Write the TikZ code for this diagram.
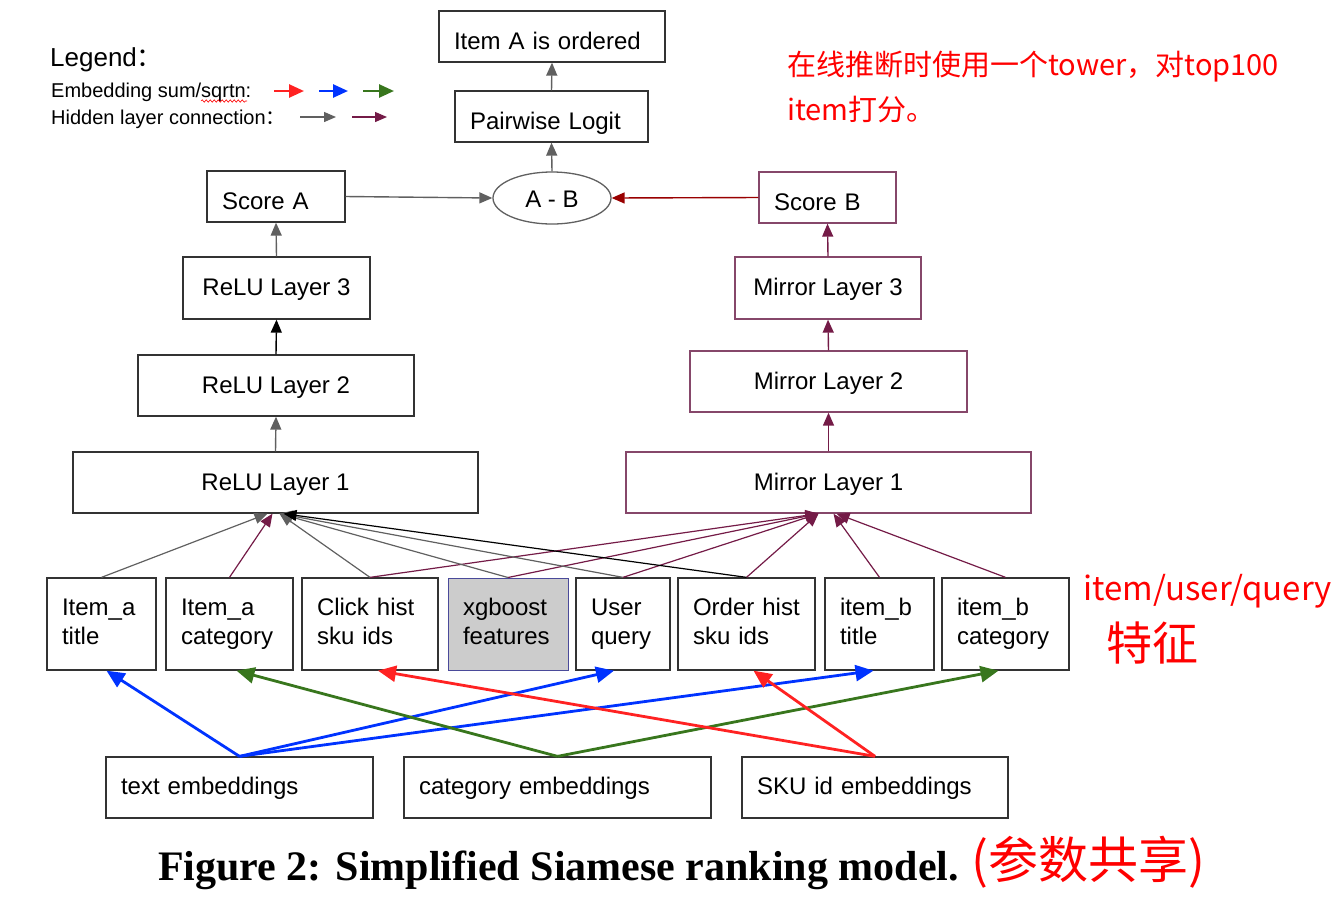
\documentclass[tikz,border=0pt]{standalone}
\usepackage{fontspec}
\setmainfont{Liberation Sans}
\newfontfamily\cjk{Noto Sans CJK SC}
\newfontfamily\capfont{Liberation Serif}
\usetikzlibrary{arrows.meta,shapes.geometric,decorations.pathmorphing}
\definecolor{hgray}{HTML}{606060}
\definecolor{hpurple}{HTML}{741B47}
\definecolor{mborder}{HTML}{86476A}
\definecolor{ered}{HTML}{FF2222}
\definecolor{eblue}{HTML}{0033FF}
\definecolor{egreen}{HTML}{38761D}
\definecolor{dred}{HTML}{990000}
\definecolor{bdr}{HTML}{333333}
\definecolor{xgfill}{HTML}{CCCCCC}
\definecolor{xgbdr}{HTML}{4A4A9A}
\begin{document}
\begin{tikzpicture}[x=1pt,y=-1pt,
  txt/.style={font=\fontsize{24}{29}\selectfont},
  box/.style={draw=bdr, line width=1.3pt, fill=white, txt, inner xsep=15pt, inner ysep=0pt, align=left},
  sbox/.style={box, minimum height=51pt, text height=30pt, text depth=5pt},
  lay/.style={box, align=center, minimum height=61pt, text height=20pt, text depth=5pt},
  mlay/.style={lay, draw=mborder},
  fbox/.style={box, minimum height=92pt},
  ebox/.style={box, minimum height=61pt, text height=18pt, text depth=5pt},
  hid/.style={line width=1.2pt, -{Triangle[length=13pt,width=11pt]}},
  hidt/.style={line width=1.4pt, -{Triangle[length=13pt,width=11pt]}},
  emb/.style={line width=2.8pt, -{Triangle[length=18pt,width=16pt]}},
  leg/.style={anchor=base west, inner sep=0pt, font=\fontsize{20}{24}\selectfont},
  note/.style={anchor=base west, inner sep=0pt, text=red, font=\cjk\fontsize{29}{34}\selectfont},
  hand/.style={inner sep=0pt, text=red, font=\cjk}
]
\useasboundingbox (0,0) rectangle (1340,906);

% ---------- legend ----------
\node[leg, font=\fontsize{26}{30}\selectfont] (legT) at (50,66) {Legend{\cjk ：}};
\node[leg] (leg1) at (51,97) {Embedding sum/sqrtn:};
\node[leg] (leg2) at (51,124) {Hidden layer connection{\cjk ：}};
\coordinate (sq1) at (201,101);
\coordinate (sq2) at (247,101);
\draw[red, line width=0.6pt, decorate, decoration={snake, amplitude=1.2pt, segment length=4pt}] (sq1) -- (sq2);
\coordinate (lr1) at (274,91);  \coordinate (lr2) at (304,91);
\coordinate (lb1) at (319,91);  \coordinate (lb2) at (348,91);
\coordinate (lg1) at (363,91);  \coordinate (lg2) at (394,91);
\coordinate (lh1) at (300,117); \coordinate (lh2) at (336,117);
\coordinate (lp1) at (352,117); \coordinate (lp2) at (387,117);
\draw[line width=2.6pt, ered, -{Triangle[length=15pt,width=13pt]}] (lr1) -- (lr2);
\draw[line width=2.6pt, eblue, -{Triangle[length=15pt,width=13pt]}] (lb1) -- (lb2);
\draw[line width=2.6pt, egreen, -{Triangle[length=15pt,width=13pt]}] (lg1) -- (lg2);
\draw[line width=1.3pt, hgray, -{Triangle[length=12pt,width=10pt]}] (lh1) -- (lh2);
\draw[line width=1.3pt, hpurple, -{Triangle[length=12pt,width=10pt]}] (lp1) -- (lp2);

% ---------- top ----------
\node[sbox, text width=196pt] (itemA) at (552,36.5) {Item A is ordered};
\node[sbox, text width=163pt] (pair) at (551.5,116.5) {Pairwise Logit};
\node[draw=hgray, line width=1.3pt, ellipse, minimum width=118pt, minimum height=52pt, inner sep=0pt, txt, fill=white, text height=22pt, text depth=4pt] (ab) at (552,198) {A - B};
\node[sbox, text width=108pt] (scoreA) at (276,196.5) {Score A};
\node[sbox, draw=mborder, text width=107pt] (scoreB) at (827.5,197.5) {Score B};

% ---------- towers ----------
\node[lay, minimum width=187pt, minimum height=62pt] (relu3) at (276.5,288) {ReLU Layer 3};
\node[lay, minimum width=276pt] (relu2) at (276,385.5) {ReLU Layer 2};
\node[lay, minimum width=405pt] (relu1) at (275.5,482.5) {ReLU Layer 1};
\node[mlay, minimum width=186pt, minimum height=62pt] (mir3) at (828,288) {Mirror Layer 3};
\node[mlay, minimum width=277pt] (mir2) at (828.5,381.5) {Mirror Layer 2};
\node[mlay, minimum width=405pt] (mir1) at (828.5,482.5) {Mirror Layer 1};

% ---------- features ----------
\node[fbox, text width=79pt] (f1) at (101.5,624) {\strut Item\_a\\\strut title};
\node[fbox, text width=97pt] (f2) at (229.5,624) {\strut Item\_a\\\strut category};
\node[fbox, text width=106pt] (f3) at (370,624) {\strut Click~hist\\\strut sku~ids};
\node[fbox, text width=90pt, fill=xgfill, draw=xgbdr, line width=1pt] (f4) at (508,624) {\strut xgboost\\\strut features};
\node[fbox, text width=64pt] (f5) at (623,624) {\strut User\\\strut query};
\node[fbox, text width=107pt] (f6) at (746.5,624) {\strut Order~hist\\\strut sku~ids};
\node[fbox, text width=79pt] (f7) at (879.5,624) {\strut item\_b\\\strut title};
\node[fbox, text width=97pt] (f8) at (1005.5,624) {\strut item\_b\\\strut category};

% ---------- embeddings ----------
\node[ebox, text width=237pt] (e1) at (239.5,787.5) {text embeddings};
\node[ebox, text width=277pt] (e2) at (557.5,787.5) {category embeddings};
\node[ebox, text width=236pt] (e3) at (875,787.5) {SKU id embeddings};

% ---------- upper connectors ----------
\draw[hidt, hgray] (pair.north) -- (itemA.south);
\draw[hidt, hgray] (ab.north) -- (pair.south);
\draw[hidt, hgray] (scoreA.east) -- (ab.west);
\draw[hidt, dred] (scoreB.west) -- (ab.east);
\draw[hidt, hgray] (relu3.north) -- (scoreA.south);
\draw[hidt, black] (relu2.north) -- (relu3.south);
\draw[hidt, hgray] (relu1.north) -- (relu2.south);
\draw[hidt, hpurple] (mir3.north) -- (scoreB.south);
\draw[hidt, hpurple] (mir2.north) -- (mir3.south);
\draw[hidt, hpurple] (mir1.north) -- (mir2.south);

% ---------- feature -> layer 1 ----------
\draw[hid, hpurple] (f3.north) -- ([xshift=-10pt]mir1.south);
\draw[hid, hpurple] (f4.north) -- ([xshift=-10pt]mir1.south);
\draw[hid, hpurple] (f5.north) -- ([xshift=-10pt]mir1.south);
\draw[hid, hpurple] (f6.north) -- ([xshift=-10pt]mir1.south);
\draw[hid, hpurple] (f7.north) -- ([xshift=5pt]mir1.south);
\draw[hid, hpurple] (f8.north) -- ([xshift=8pt]mir1.south);
\draw[hid, hgray] (f1.north) -- ([xshift=-8pt]relu1.south);
\draw[hid, hpurple] (f2.north) -- ([xshift=-3pt]relu1.south);
\draw[hid, hgray] (f3.north) -- ([xshift=4pt]relu1.south);
\draw[hid, hgray] (f4.north) -- ([xshift=4pt]relu1.south);
\draw[hid, hgray] (f5.north) -- ([xshift=4pt]relu1.south);
\draw[hid, black] (f6.north) -- ([xshift=8pt]relu1.south);

% ---------- embeddings -> features ----------
\draw[emb, eblue] (e1.north) -- ([xshift=5pt]f1.south);
\draw[emb, eblue] (e1.north) -- ([xshift=-9pt]f5.south);
\draw[emb, eblue] (e1.north) -- ([xshift=-6pt]f7.south);
\draw[emb, egreen] (e2.north) -- ([xshift=7pt]f2.south);
\draw[emb, egreen] (e2.north) -- ([xshift=-7pt]f8.south);
\draw[emb, ered] (e3.north) -- ([xshift=8pt]f3.south);
\draw[emb, ered] (e3.north) -- ([xshift=7pt]f6.south);

% ---------- annotations ----------
\node[note] (n1) at (787,75) {在线推断时使用一个tower，对top100};
\node[note] (n2) at (787,120) {item打分。};
\node[hand, anchor=base west, font=\cjk\fontsize{33}{36}\selectfont] (h1) at (1083,600) {item/user/query};
\node[hand, anchor=west, font=\cjk\fontsize{46}{50}\selectfont] (h2) at (1106,643) {特征};
\node[hand, anchor=center, font=\cjk\fontsize{50}{54}\selectfont] (h3) at (1088,862) {(参数共享)};
\node[anchor=base west, inner sep=0pt, font=\capfont\bfseries\fontsize{42}{46}\selectfont] (cap) at (158,880) {Figure 2: Simplified Siamese ranking model.};
\end{tikzpicture}
\end{document}
